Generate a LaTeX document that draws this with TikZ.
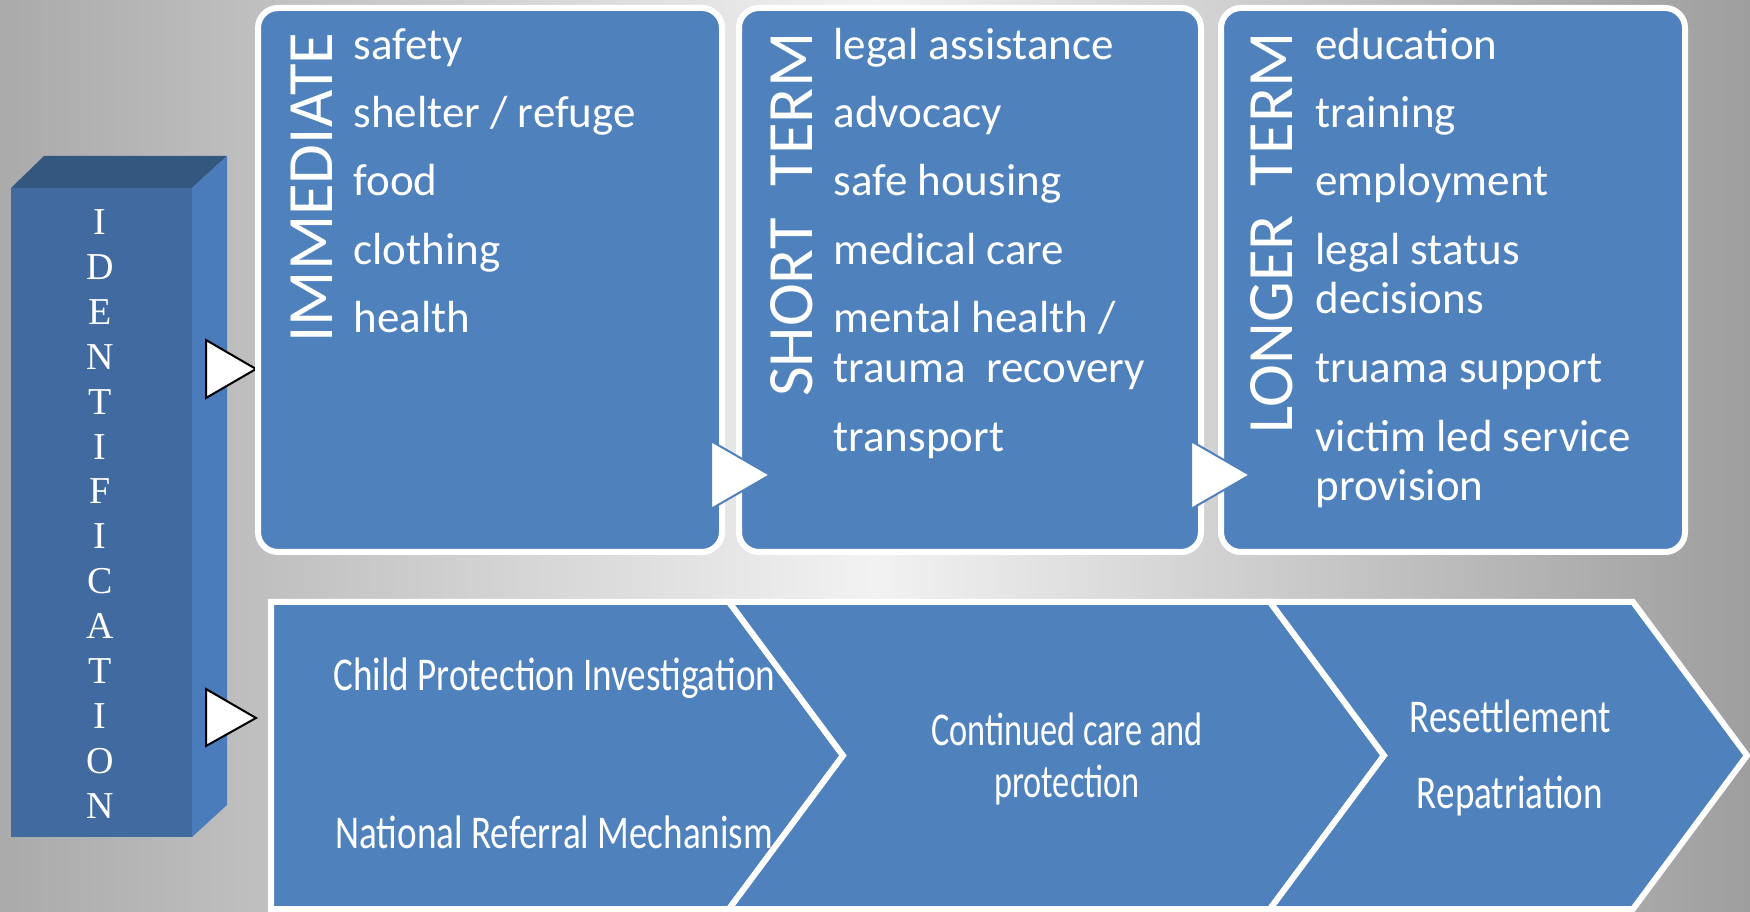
\documentclass[tikz,border=0pt]{standalone}
\usepackage{fontspec}
\setmainfont{Carlito}
\newfontfamily\idfont{Liberation Serif}
\newfontfamily\chevfont[FakeStretch=0.79]{Carlito}
\newfontfamily\carefont[FakeStretch=0.73]{Carlito}

\definecolor{boxblue}{RGB}{79,129,189}
\definecolor{idfront}{RGB}{65,107,160}
\definecolor{idtop}{RGB}{52,87,128}
\definecolor{idside}{RGB}{74,123,187}
\definecolor{bgleft}{RGB}{170,170,170}
\definecolor{bgmid}{RGB}{242,242,242}
\definecolor{bgright}{RGB}{158,158,158}

\tikzset{every picture/.style={line width=0.75pt}}
\tikzset{
  stagebox/.style={draw=white, line width=4.5pt, fill=boxblue, rounded corners=15pt},
  chevshape/.style={draw=white, line width=4.5pt, fill=boxblue, line join=miter},
  idarrow/.style={draw=black, line width=1.5pt, fill=white, line join=miter},
  steparrow/.style={draw=boxblue, line width=1.5pt, fill=white, line join=miter},
  listitem/.style={anchor=base west, inner sep=0pt, text=white, font=\fontsize{33.75}{40}\selectfont},
  sidelabel/.style={anchor=east, inner sep=0pt, rotate=90, text=white, font=\fontsize{48.5}{56}\selectfont},
  chevtext/.style={inner sep=0pt, text=white, font=\chevfont\fontsize{35.25}{42}\selectfont}
}

\begin{document}
\begin{tikzpicture}[x=0.75pt,y=0.75pt,yscale=-1,xscale=1]
\useasboundingbox (0,0) rectangle (1750,912);

%Background
\shade [left color=bgleft, right color=bgright, middle color=bgmid] (0,0) rectangle (1750,912);

%Shape: Cube front
\fill [idfront] (11,188) -- (192,188) -- (192,837) -- (11,837) -- cycle ;
%Shape: Cube top
\fill [idtop] (11,188) -- (44,156) -- (227,156) -- (192,188) -- cycle ;
%Shape: Cube side
\fill [idside] (192,188) -- (227,156) -- (227,805) -- (192,837) -- cycle ;

%Shape: Triangle
\draw [idarrow] (206,340) -- (256,369) -- (206,398) -- cycle ;
%Shape: Triangle
\draw [idarrow] (206,689) -- (256,718) -- (206,746) -- cycle ;

%Rounded Rect
\draw [stagebox] (258,8) rectangle (722,552) ;
%Rounded Rect
\draw [stagebox] (739,8) rectangle (1201,552) ;
%Rounded Rect
\draw [stagebox] (1221,8) rectangle (1685,552) ;

%Shape: Triangle
\draw [steparrow] (711,441) -- (770,475) -- (711,509) -- cycle ;
%Shape: Triangle
\draw [steparrow] (1191,441) -- (1250,475) -- (1191,509) -- cycle ;

%Shape: Pentagon
\draw [chevshape] (271,602) -- (729,602) -- (843,755.5) -- (729,909) -- (271,909) -- cycle ;
%Shape: Chevron
\draw [chevshape] (729,602) -- (1270,602) -- (1384,755.5) -- (1270,909) -- (729,909) -- (843,755.5) -- cycle ;
%Shape: Chevron
\draw [chevshape] (1270,602) -- (1633,602) -- (1747,755.5) -- (1633,909) -- (1270,909) -- (1384,755.5) -- cycle ;

% Text Node
\node (ident) [inner sep=0pt, text=white, align=center, font=\idfont\fontsize{28.5}{33.7}\selectfont] at (100,514) {I\\D\\E\\N\\T\\I\\F\\I\\C\\A\\T\\I\\O\\N};

% Text Node
\node (immlabel) [sidelabel] at (312,32) {IMMEDIATE};
\node (imm1) [listitem] at (353,60) {safety};
\node (imm2) [listitem] at (353,128) {shelter / refuge};
\node (imm3) [listitem] at (353,196) {food};
\node (imm4) [listitem] at (353,265) {clothing};
\node (imm5) [listitem] at (353,333) {health};

% Text Node
\node (shortlabel) [sidelabel] at (792,32) {SHORT\hspace{24pt}TERM};
\node (short1) [listitem] at (833,60) {legal assistance};
\node (short2) [listitem] at (833,128) {advocacy};
\node (short3) [listitem] at (833,196) {safe housing};
\node (short4) [listitem] at (833,265) {medical care};
\node (short5) [listitem] at (833,333) {mental health /};
\node (short6) [listitem] at (833,383) {trauma\ \ recovery};
\node (short7) [listitem] at (833,452) {transport};

% Text Node
\node (longlabel) [sidelabel] at (1272,32) {LONGER\ \ TERM};
\node (long1) [listitem] at (1315,60) {education};
\node (long2) [listitem] at (1315,128) {training};
\node (long3) [listitem] at (1315,196) {employment};
\node (long4) [listitem] at (1315,265) {legal status};
\node (long5) [listitem] at (1315,314) {decisions};
\node (long6) [listitem] at (1315,383) {truama support};
\node (long7) [listitem] at (1315,452) {victim led service};
\node (long8) [listitem] at (1315,501) {provision};

% Text Node
\node (childprot) [chevtext, anchor=base west] at (333,690) {Child Protection Investigation};
\node (nrm) [chevtext, anchor=base west] at (335,848) {National Referral Mechanism};
\node (care1) [chevtext, anchor=base, font=\carefont\fontsize{35.25}{42}\selectfont] at (1067,745) {Continued care and};
\node (care2) [chevtext, anchor=base, font=\carefont\fontsize{35.25}{42}\selectfont] at (1067,797) {protection};
\node (resettle) [chevtext, anchor=base] at (1510,732) {Resettlement};
\node (repat) [chevtext, anchor=base] at (1510,808) {Repatriation};

\end{tikzpicture}
\end{document}
